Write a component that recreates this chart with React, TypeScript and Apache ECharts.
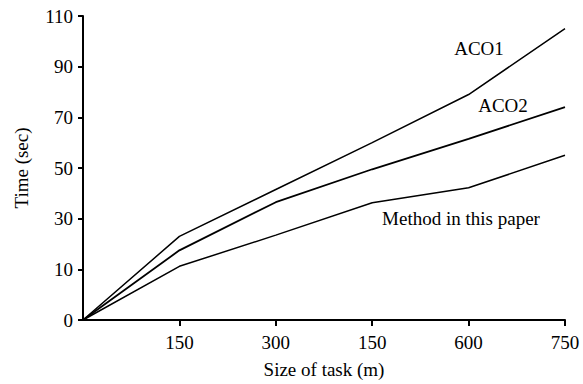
import React, { useEffect, useRef } from "react";
import * as echarts from "echarts";

// Task sizes as printed on the x axis (the first category is the origin, left unlabeled)
const categories = ["", "150", "300", "150", "600", "750"];
// Tick labels printed on the y axis (equally spaced in the figure)
const yTickLabels = ["0", "10", "30", "50", "70", "90", "110"];
// Values read in y-axis units (the bottom tick, printed "0", sits at -10 on the 20-step scale)
const aco1 = [-10, 23, 41.5, 60, 79, 105];
const aco2 = [-10, 17.5, 36.5, 49.5, 61.5, 74];
const method = [-10, 11.2, 23.5, 36.3, 42.2, 55];

const FONT = "'Liberation Serif', 'Times New Roman', serif";

export default function App() {
  const ref = useRef<HTMLDivElement>(null);
  useEffect(() => {
    if (!ref.current) return;
    const chart = echarts.init(ref.current, undefined, { renderer: "svg" });
    const lineStyle = (w: number) => ({ color: "#000", width: w });
    chart.setOption({
      animation: false,
      backgroundColor: "#fff",
      textStyle: { fontFamily: FONT, color: "#000" },
      grid: { left: 83, right: 18, top: 16, bottom: 62 },
      xAxis: {
        type: "category",
        data: categories,
        boundaryGap: false,
        name: "Size of task (m)",
        nameLocation: "middle",
        nameGap: 40,
        nameTextStyle: { fontFamily: FONT, fontSize: 19, color: "#000" },
        axisLine: { onZero: false, lineStyle: { color: "#000", width: 2 } },
        axisTick: {
          alignWithLabel: true,
          length: 6,
          lineStyle: { color: "#000", width: 2 },
          interval: (i: number) => i !== 0,
        },
        axisLabel: { fontFamily: FONT, fontSize: 19, color: "#000", margin: 13 },
        splitLine: { show: false },
      },
      yAxis: {
        type: "value",
        min: -10,
        max: 110,
        interval: 20,
        name: "Time (sec)",
        nameLocation: "middle",
        nameGap: 52,
        nameTextStyle: { fontFamily: FONT, fontSize: 19, color: "#000" },
        axisLine: { show: true, onZero: false, lineStyle: { color: "#000", width: 2 } },
        axisTick: { show: true, length: 5, lineStyle: { color: "#000", width: 2 } },
        axisLabel: {
          fontFamily: FONT,
          fontSize: 19,
          color: "#000",
          margin: 10,
          formatter: (_v: number, i: number) => yTickLabels[i] ?? "",
        },
        splitLine: { show: false },
      },
      series: [
        { name: "ACO1", type: "line", data: aco1, symbol: "none", lineStyle: lineStyle(1.5) },
        { name: "ACO2", type: "line", data: aco2, symbol: "none", lineStyle: lineStyle(1.8) },
        { name: "Method in this paper", type: "line", data: method, symbol: "none", lineStyle: lineStyle(1.5) },
      ],
      graphic: [
        { type: "text", x: 479, y: 48, style: { text: "ACO1", font: `19px ${FONT}`, fill: "#000", textAlign: "center", textVerticalAlign: "middle" } },
        { type: "text", x: 503, y: 105, style: { text: "ACO2", font: `19px ${FONT}`, fill: "#000", textAlign: "center", textVerticalAlign: "middle" } },
        { type: "text", x: 461, y: 218, style: { text: "Method in this paper", font: `19px ${FONT}`, fill: "#000", textAlign: "center", textVerticalAlign: "middle" } },
      ],
    });
    return () => chart.dispose();
  }, []);
  return <div ref={ref} style={{ position: "fixed", left: 0, top: 0, width: 583, height: 384 }} />;
}
